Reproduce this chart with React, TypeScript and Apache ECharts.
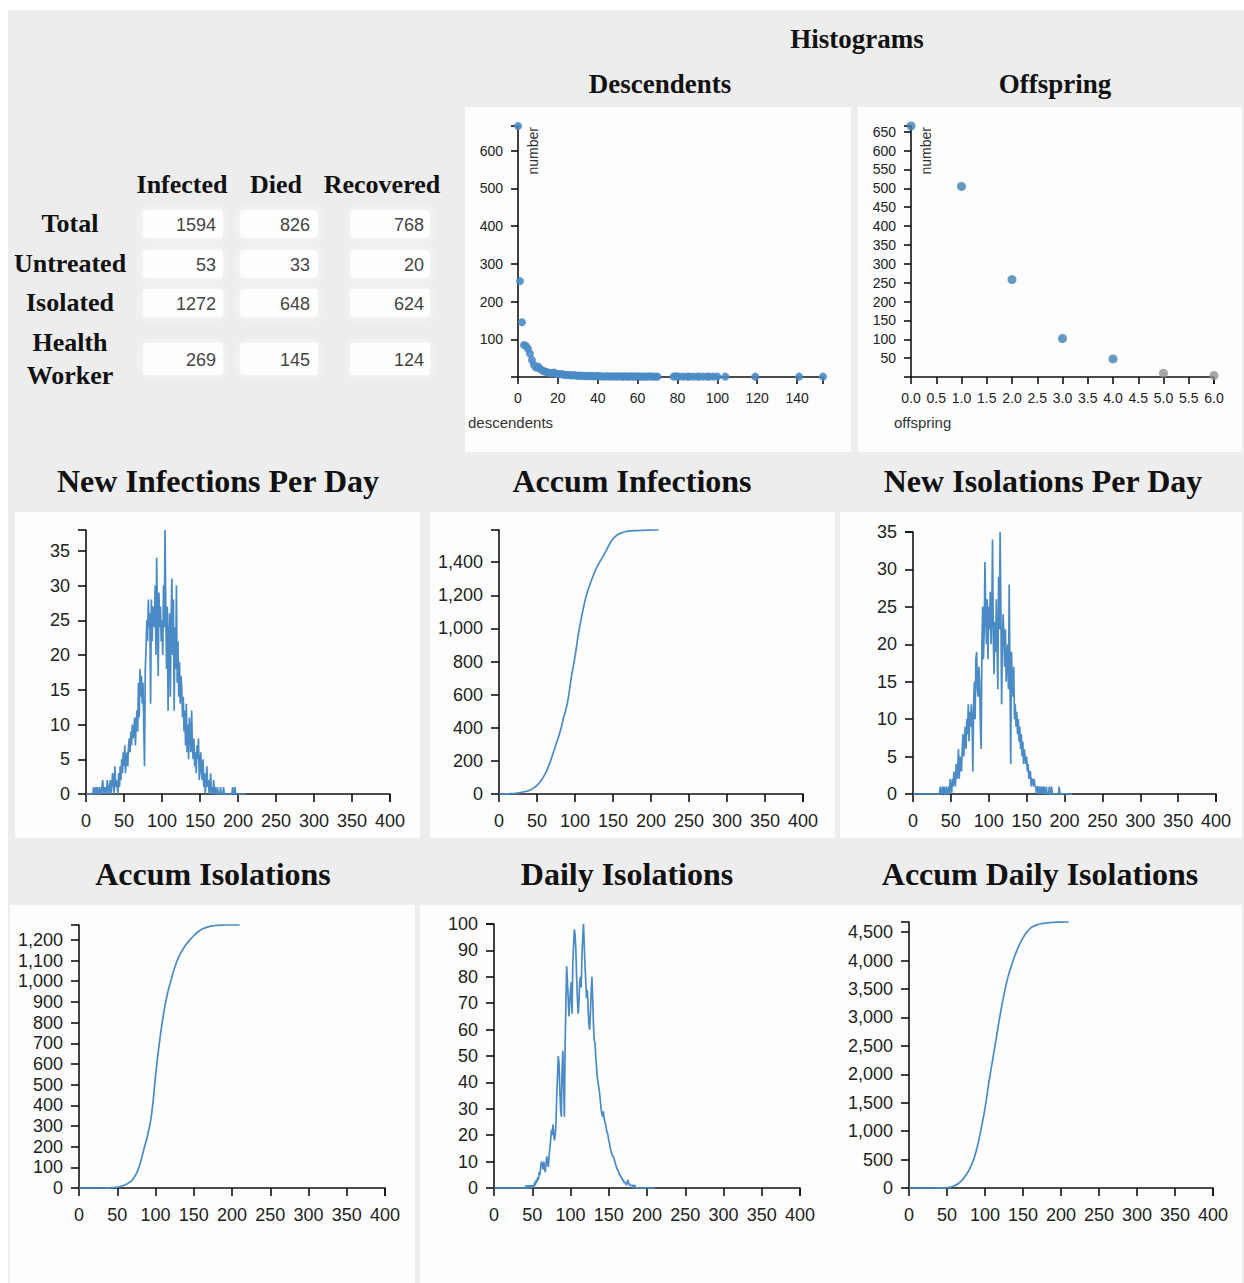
import React, { useEffect, useRef } from "react";
import * as echarts from "echarts";

// ---------- Summary table ----------
const tableColumns = ["Infected", "Died", "Recovered"];
const tableRows = ["Total", "Untreated", "Isolated", "Health\nWorker"];
const infectedValues = [1594, 53, 1272, 269];
const diedValues = [826, 33, 648, 145];
const recoveredValues = [768, 20, 624, 124];

// ---------- Histograms ----------
const descendentsX = [
  0, 1, 2, 3, 4, 5, 6, 7, 8, 9,
  10, 11, 12, 13, 14, 15, 16, 17, 18, 19,
  20, 21, 22, 23, 24, 25, 26, 27, 28, 29,
  30, 31, 32, 33, 34, 35, 36, 37, 38, 39,
  40, 41, 42, 43, 44, 45, 46, 47, 48, 49,
  50, 51, 52, 53, 54, 55, 56, 57, 58, 59,
  60, 61, 62, 63, 64, 65, 66, 67, 68, 69,
  70, 78, 79, 80, 81, 83, 85, 86, 88, 90,
  91, 93, 95, 96, 98, 100, 104, 119, 141, 153,
];
const descendentsCount = [
  665, 254, 145, 85, 82, 75, 62, 45, 32, 25,
  28, 22, 18, 15, 14, 12, 11, 10, 12, 9,
  8, 7, 8, 6, 5, 6, 5, 4, 5, 4,
  3, 4, 3, 3, 2, 3, 2, 3, 2, 2,
  3, 2, 2, 1, 2, 2, 1, 2, 1, 2,
  1, 2, 1, 1, 2, 1, 1, 2, 1, 1,
  2, 1, 1, 1, 1, 1, 2, 1, 1, 1,
  1, 1, 2, 1, 1, 1, 1, 1, 1, 1,
  1, 1, 1, 1, 1, 1, 1, 1, 1, 1,
];
const descXTicks = [0, 20, 40, 60, 80, 100, 120, 140];
const descYTicks = [100, 200, 300, 400, 500, 600];

const offspringX = [0, 1, 2, 3, 4, 5, 6];
const offspringCount = [665, 505, 258, 102, 48, 10, 4];
const offsXTicks = [0, 0.5, 1, 1.5, 2, 2.5, 3, 3.5, 4, 4.5, 5, 5.5, 6];
const offsYTicks = [50, 100, 150, 200, 250, 300, 350, 400, 450, 500, 550, 600, 650];

// ---------- Time series (index = day) ----------
const dayTicks = [0, 50, 100, 150, 200, 250, 300, 350, 400];

const newInfections = [
  0, 0, 0, 0, 0, 0, 0, 0, 0, 0,
  1, 0, 0, 1, 0, 1, 0, 0, 1, 0,
  0, 1, 2, 0, 1, 0, 1, 0, 2, 1,
  0, 1, 2, 0, 1, 3, 2, 0, 4, 1,
  2, 1, 0, 3, 1, 4, 2, 5, 3, 6,
  4, 7, 3, 5, 6, 4, 7, 8, 6, 9,
  7, 10, 8, 9, 11, 7, 10, 12, 9, 16,
  11, 18, 14, 17, 13, 16, 10, 4, 18, 21,
  25, 22, 28, 24, 26, 13, 28, 22, 27, 25,
  24, 30, 20, 34, 26, 17, 29, 24, 27, 22,
  25, 20, 30, 24, 38, 26, 18, 27, 12, 22,
  26, 14, 25, 31, 20, 28, 12, 24, 18, 30,
  16, 22, 14, 19, 13, 17, 15, 11, 14, 9,
  12, 7, 13, 6, 10, 5, 11, 9, 6, 12,
  7, 5, 8, 4, 6, 3, 7, 5, 8, 2,
  4, 6, 3, 2, 5, 1, 3, 0, 2, 4,
  1, 2, 0, 1, 3, 0, 1, 0, 2, 0,
  1, 0, 0, 1, 0, 0, 0, 1, 0, 0,
  0, 1, 0, 0, 0, 0, 0, 0, 0, 0,
  0, 0, 0, 1, 0, 0, 1, 0, 0, 0,
  0, 0, 0, 0, 0, 0, 0, 0, 0, 0, 0,
];

const newIsolations = [
  0, 0, 0, 0, 0, 0, 0, 0, 0, 0,
  0, 0, 0, 0, 0, 0, 0, 0, 0, 0,
  0, 0, 0, 0, 0, 0, 0, 0, 0, 0,
  0, 0, 0, 0, 0, 0, 1, 0, 0, 1,
  0, 1, 0, 0, 1, 0, 0, 1, 0, 2,
  1, 0, 2, 1, 3, 2, 1, 4, 2, 3,
  6, 2, 5, 4, 3, 6, 8, 5, 7, 9,
  6, 10, 8, 12, 7, 11, 9, 12, 10, 3,
  12, 15, 10, 18, 19, 14, 13, 17, 15, 9,
  6, 20, 25, 18, 22, 31, 24, 20, 26, 18,
  25, 22, 27, 20, 24, 34, 21, 16, 23, 19,
  26, 20, 14, 29, 22, 35, 25, 12, 20, 24,
  21, 17, 22, 15, 18, 20, 14, 28, 16, 4,
  19, 15, 13, 17, 10, 12, 9, 11, 8, 10,
  7, 9, 6, 8, 5, 7, 4, 6, 5, 4,
  5, 3, 4, 2, 3, 3, 1, 2, 2, 1,
  2, 1, 1, 0, 1, 1, 0, 1, 0, 1,
  0, 1, 0, 1, 0, 0, 1, 0, 0, 0,
  1, 0, 0, 1, 0, 0, 0, 0, 0, 0,
  0, 0, 0, 1, 0, 0, 0, 0, 0, 0,
  0, 0, 0, 0, 0, 0, 0, 0, 0, 0, 0,
];

const dailyIsolations = [
  0, 0, 0, 0, 0, 0, 0, 0, 0, 0,
  0, 0, 0, 0, 0, 0, 0, 0, 0, 0,
  0, 0, 0, 0, 0, 0, 0, 0, 0, 0,
  0, 0, 0, 0, 0, 0, 0, 0, 0, 0,
  0, 0, 1, 0, 0, 1, 0, 1, 0, 1,
  0, 1, 0, 2, 1, 3, 2, 4, 3, 6,
  5, 8, 10, 9, 7, 10, 8, 6, 9, 12,
  10, 8, 12, 15, 18, 22, 20, 24, 21, 18,
  20, 24, 35, 42, 50, 47, 38, 30, 27, 45,
  52, 40, 27, 55, 70, 84, 78, 72, 65, 70,
  75, 78, 66, 85, 92, 98, 96, 90, 80, 72,
  66, 70, 78, 80, 76, 88, 95, 100, 92, 84,
  78, 72, 75, 68, 62, 60, 66, 74, 80, 72,
  62, 56, 55, 50, 46, 42, 40, 38, 36, 33,
  30, 28, 27, 29, 26, 25, 24, 22, 21, 20,
  18, 17, 15, 14, 13, 12, 12, 11, 10, 9,
  8, 7, 7, 6, 5, 5, 4, 4, 3, 3,
  2, 2, 2, 1, 2, 3, 2, 1, 1, 1,
  1, 1, 0, 1, 1, 0, 0, 0, 0, 0,
  0, 0, 0, 0, 0, 0, 0, 0, 0, 0,
  0, 0, 0, 0, 0, 0, 0, 0, 0, 0, 0,
];

const accumDays = [
  0, 5, 10, 15, 20, 25, 30, 35, 40, 45,
  50, 55, 60, 65, 70, 75, 80, 85, 90, 95,
  100, 105, 110, 115, 120, 125, 130, 135, 140, 145,
  150, 155, 160, 165, 170, 175, 180, 185, 190, 195,
  200, 205, 210,
];
const accumInfections = [
  0, 0, 1, 2, 3, 6, 10, 15, 22, 34,
  52, 80, 115, 165, 230, 300, 370, 460, 550, 700,
  830, 980, 1100, 1200, 1270, 1330, 1380, 1420, 1460, 1505,
  1540, 1562, 1575, 1582, 1587, 1589, 1590, 1591, 1592, 1593,
  1594, 1594, 1594,
];
const accumIsolations = [
  0, 0, 0, 0, 0, 0, 0, 0, 1, 2,
  4, 8, 15, 25, 40, 70, 120, 190, 260, 360,
  540, 700, 830, 930, 1000, 1065, 1115, 1150, 1178, 1200,
  1220, 1238, 1250, 1258, 1264, 1268, 1270, 1271, 1272, 1272,
  1272, 1272, 1272,
];
const accumDailyIsolations = [
  0, 0, 0, 0, 0, 0, 0, 0, 1, 2,
  5, 15, 40, 80, 140, 230, 340, 500, 730, 1050,
  1400, 1850, 2250, 2650, 3050, 3400, 3700, 3920, 4110, 4270,
  4400, 4500, 4570, 4610, 4635, 4650, 4660, 4668, 4672, 4675,
  4677, 4678, 4678,
];

const ticks5_35 = [0, 5, 10, 15, 20, 25, 30, 35];
const ticks200_1400 = [0, 200, 400, 600, 800, 1000, 1200, 1400];
const ticks100_1200 = [0, 100, 200, 300, 400, 500, 600, 700, 800, 900, 1000, 1100, 1200];
const ticks10_100 = [0, 10, 20, 30, 40, 50, 60, 70, 80, 90, 100];
const ticks500_4500 = [0, 500, 1000, 1500, 2000, 2500, 3000, 3500, 4000, 4500];

// ---------- Styling ----------
const BLUE = "#4a8bc6";
const AXIS = "#111";
const SERIF = '"Liberation Serif", "Times New Roman", serif';
const SANS = '"Liberation Sans", Arial, Helvetica, sans-serif';

const fmtThousands = (v: number) => Math.round(v).toLocaleString("en-US");

function pairs(xs: number[], ys: number[]) {
  return xs.map((x, i) => [x, ys[i]]);
}
function dayPairs(ys: number[]) {
  return ys.map((y, i) => [i, y]);
}

function txt(t: string, x: number, y: number, font: string, extra: any = {}) {
  const { align = "center", vAlign = "middle", fill = "#111", rotation = 0 } = extra;
  return {
    type: "text",
    x,
    y,
    rotation,
    z: 20,
    silent: true,
    style: {
      text: t,
      font,
      fill,
      align,
      verticalAlign: vAlign,
      textAlign: align,
      textVerticalAlign: vAlign,
    },
  };
}

function rect(x: number, y: number, w: number, h: number, fill: string, extra: any = {}) {
  return {
    type: "rect",
    z: -10,
    silent: true,
    shape: { x, y, width: w, height: h, r: extra.r || 0 },
    style: { fill, opacity: extra.opacity ?? 1, shadowBlur: extra.blur || 0, shadowColor: extra.shadow || "transparent" },
  };
}

type Panel = {
  grid: { left: number; top: number; width: number; height: number };
  xMax: number;
  xLabels: number[];
  yMax: number;
  yLabels: number[];
  yTickExtra: number[];
  font: number;
  tick: number;
  xMargin: number;
  yMargin: number;
  xFmt?: (v: number) => string;
  yFmt?: (v: number) => string;
};

function buildOption() {
  const descMax = Math.max(...descendentsCount);
  const offsMax = Math.max(...offspringCount);

  const hist = { font: 14, tick: 7, xMargin: 14, yMargin: 15 };
  const line = { font: 18, tick: 8, xMargin: 18, yMargin: 16 };

  const panels: Panel[] = [
    { grid: { left: 518, top: 126, width: 305, height: 251 }, xMax: 153, xLabels: descXTicks, yMax: descMax, yLabels: descYTicks, yTickExtra: [0], ...hist },
    { grid: { left: 911, top: 126, width: 303, height: 251 }, xMax: 6, xLabels: offsXTicks, yMax: offsMax, yLabels: offsYTicks, yTickExtra: [0], ...hist, xFmt: (v) => v.toFixed(1) },
    { grid: { left: 86, top: 530, width: 304, height: 264 }, xMax: 400, xLabels: dayTicks, yMax: Math.max(...newInfections), yLabels: ticks5_35, yTickExtra: [], ...line, yFmt: fmtThousands },
    { grid: { left: 499, top: 530, width: 304, height: 264 }, xMax: 400, xLabels: dayTicks, yMax: Math.max(...accumInfections), yLabels: ticks200_1400, yTickExtra: [], ...line, yFmt: fmtThousands },
    { grid: { left: 913, top: 532, width: 303, height: 262 }, xMax: 400, xLabels: dayTicks, yMax: Math.max(...newIsolations), yLabels: ticks5_35, yTickExtra: [], ...line, yFmt: fmtThousands },
    { grid: { left: 79, top: 925, width: 306, height: 263 }, xMax: 400, xLabels: dayTicks, yMax: Math.max(...accumIsolations), yLabels: ticks100_1200, yTickExtra: [], ...line, yFmt: fmtThousands },
    { grid: { left: 494, top: 924, width: 306, height: 264 }, xMax: 400, xLabels: dayTicks, yMax: Math.max(...dailyIsolations), yLabels: ticks10_100, yTickExtra: [], ...line, yFmt: fmtThousands },
    { grid: { left: 909, top: 922, width: 304, height: 266 }, xMax: 400, xLabels: dayTicks, yMax: Math.max(...accumDailyIsolations), yLabels: ticks500_4500, yTickExtra: [], ...line, yFmt: fmtThousands },
  ];

  const axisLine = { show: true, onZero: false, lineStyle: { color: AXIS, width: 1.6 } };
  const tickStyle = { color: AXIS, width: 1.6 };

  const grid = panels.map((p) => ({ ...p.grid, containLabel: false }));
  const xAxis = panels.map((p, i) => ({
    type: "value",
    gridIndex: i,
    min: 0,
    max: p.xMax,
    axisLine,
    splitLine: { show: false },
    axisTick: { show: true, length: p.tick, lineStyle: tickStyle, customValues: [...p.xLabels, p.xMax] },
    axisLabel: {
      show: true,
      customValues: p.xLabels,
      fontSize: p.font,
      fontFamily: SANS,
      color: "#222",
      margin: p.xMargin,
      formatter: p.xFmt ? p.xFmt : (v: number) => String(v),
    },
  }));
  const yAxis = panels.map((p, i) => ({
    type: "value",
    gridIndex: i,
    min: 0,
    max: p.yMax,
    axisLine,
    splitLine: { show: false },
    axisTick: { show: true, length: p.tick, lineStyle: tickStyle, customValues: [...p.yTickExtra, ...p.yLabels, p.yMax] },
    axisLabel: {
      show: true,
      customValues: p.yLabels,
      fontSize: p.font,
      fontFamily: SANS,
      color: "#222",
      margin: p.yMargin,
      formatter: p.yFmt ? p.yFmt : (v: number) => String(v),
    },
  }));

  const lineSeries = (idx: number, data: number[][], smooth: boolean) => ({
    type: "line",
    xAxisIndex: idx,
    yAxisIndex: idx,
    data,
    showSymbol: false,
    smooth,
    clip: false,
    lineStyle: { color: BLUE, width: 1.7 },
    itemStyle: { color: BLUE },
  });

  const series: any[] = [
    {
      type: "scatter",
      xAxisIndex: 0,
      yAxisIndex: 0,
      data: pairs(descendentsX, descendentsCount),
      symbolSize: 8,
      clip: false,
      itemStyle: { color: BLUE, opacity: 0.9 },
    },
    {
      type: "scatter",
      xAxisIndex: 1,
      yAxisIndex: 1,
      data: pairs(offspringX, offspringCount),
      symbolSize: 9,
      clip: false,
      itemStyle: {
        color: (p: any) => (p.value[1] < 20 ? "#8d9299" : "#3f7fb3"),
      },
    },
    lineSeries(2, dayPairs(newInfections), false),
    lineSeries(3, pairs(accumDays, accumInfections), true),
    lineSeries(4, dayPairs(newIsolations), false),
    lineSeries(5, pairs(accumDays, accumIsolations), true),
    lineSeries(6, dayPairs(dailyIsolations), false),
    lineSeries(7, pairs(accumDays, accumDailyIsolations), true),
  ];

  // ---------- graphic: backgrounds, titles, table ----------
  const g: any[] = [];
  g.push(rect(8, 10, 1236, 1273, "#ededed"));
  // panels
  g.push(rect(465, 107, 386, 345, "#fdfdfd"));
  g.push(rect(858, 107, 384, 345, "#fdfdfd"));
  g.push(rect(15, 512, 405, 326, "#fdfdfd"));
  g.push(rect(430, 512, 405, 326, "#fdfdfd"));
  g.push(rect(840, 512, 402, 326, "#fdfdfd"));
  g.push(rect(10, 905, 405, 378, "#fdfdfd"));
  g.push(rect(420, 905, 415, 378, "#fdfdfd"));
  g.push(rect(835, 905, 407, 378, "#fdfdfd"));

  // titles
  const histTitle = `bold 27px ${SERIF}`;
  const rowTitle = `bold 32px ${SERIF}`;
  g.push(txt("Histograms", 857, 39, histTitle));
  g.push(txt("Descendents", 660, 84, histTitle));
  g.push(txt("Offspring", 1055, 84, histTitle));
  g.push(txt("New Infections Per Day", 218, 481, rowTitle));
  g.push(txt("Accum Infections", 632, 481, rowTitle));
  g.push(txt("New Isolations Per Day", 1043, 481, rowTitle));
  g.push(txt("Accum Isolations", 213, 874, rowTitle));
  g.push(txt("Daily Isolations", 627, 874, rowTitle));
  g.push(txt("Accum Daily Isolations", 1040, 874, rowTitle));

  // axis names for histograms
  g.push(txt("descendents", 468, 422, `15px ${SANS}`, { align: "left", fill: "#333" }));
  g.push(txt("offspring", 894, 422, `15px ${SANS}`, { align: "left", fill: "#333" }));
  g.push(txt("number", 526, 127, `14px ${SANS}`, { align: "right", vAlign: "top", fill: "#333", rotation: Math.PI / 2 }));
  g.push(txt("number", 919, 127, `14px ${SANS}`, { align: "right", vAlign: "top", fill: "#333", rotation: Math.PI / 2 }));

  // table
  const colCenters = [182, 276, 382];
  const colRights = [216, 310, 424];
  const cellLefts = [143, 240, 350];
  const cellWidths = [80, 78, 80];
  const rowCenters = [224, 264, 303, 359];
  const rowHeights = [28, 28, 28, 32];
  const tableFont = `bold 26px ${SERIF}`;
  tableColumns.forEach((c, i) => g.push(txt(c, colCenters[i], 184, tableFont)));
  tableRows.forEach((r, i) => {
    if (r.includes("\n")) {
      const [a, b] = r.split("\n");
      g.push(txt(a, 70, rowCenters[i] - 17, tableFont));
      g.push(txt(b, 70, rowCenters[i] + 16, tableFont));
    } else {
      g.push(txt(r, 70, rowCenters[i] - 1, tableFont));
    }
  });
  const cols = [infectedValues, diedValues, recoveredValues];
  cols.forEach((vals, ci) => {
    vals.forEach((v, ri) => {
      g.push({
        ...rect(cellLefts[ci], rowCenters[ri] - rowHeights[ri] / 2, cellWidths[ci], rowHeights[ri], "#ffffff", {
          opacity: 0.85,
          blur: 8,
          shadow: "rgba(255,255,255,0.9)",
          r: 3,
        }),
        z: -5,
      });
      g.push(txt(String(v), colRights[ci], rowCenters[ri] + 1, `18px ${SANS}`, { align: "right", fill: "#444" }));
    });
  });

  return {
    animation: false,
    backgroundColor: "#ffffff",
    grid,
    xAxis,
    yAxis,
    series,
    graphic: { elements: g },
  };
}

export default function App() {
  const ref = useRef<HTMLDivElement>(null);
  useEffect(() => {
    document.body.style.margin = "0";
    const chart = echarts.init(ref.current!, null, { renderer: "svg" });
    chart.setOption(buildOption() as any);
    return () => {
      chart.dispose();
    };
  }, []);
  return <div ref={ref} style={{ width: 1244, height: 1283 }} />;
}
